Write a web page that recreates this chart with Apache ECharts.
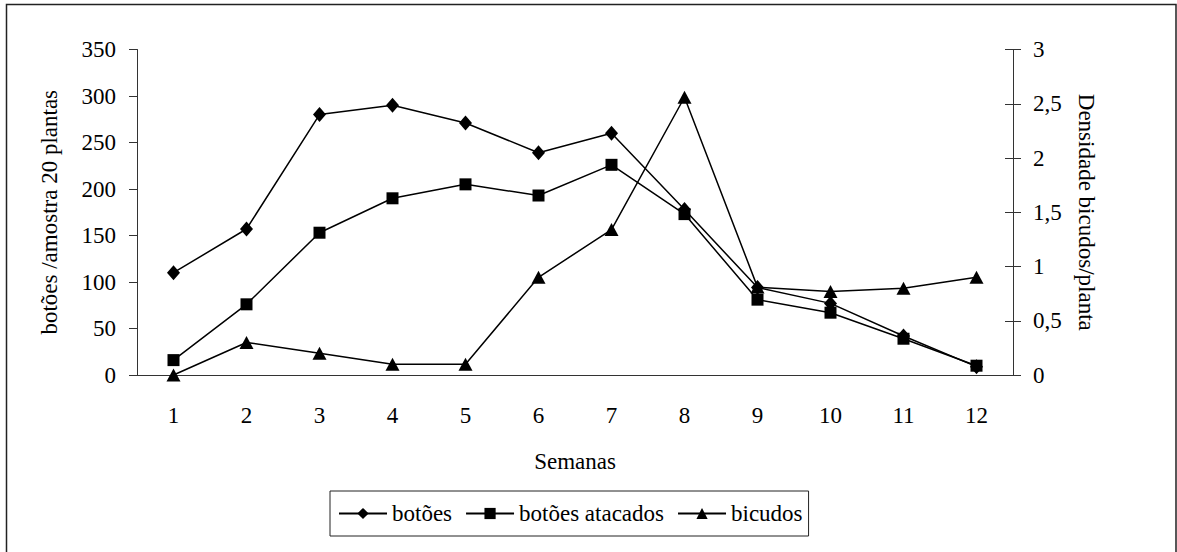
<!DOCTYPE html>
<html>
<head>
<meta charset="utf-8">
<script src="https://cdn.jsdelivr.net/npm/echarts@6/dist/echarts.min.js"></script>
<style>
  html, body { margin: 0; padding: 0; background: #fff; }
  #chart { width: 1177px; height: 552px; }
</style>
</head>
<body>
<div id="chart"></div>
<script>
var weeks = ['1', '2', '3', '4', '5', '6', '7', '8', '9', '10', '11', '12'];
var botoes = [110, 157, 280, 290, 271, 239, 260, 178, 94, 77, 42, 9];
var atacados = [16, 76, 153, 190, 205, 193, 226, 173, 81, 67, 39, 10];
var bicudos = [0, 0.3, 0.2, 0.1, 0.1, 0.9, 1.34, 2.56, 0.81, 0.77, 0.8, 0.9];

var font = "'Liberation Serif', serif";
var fs = 23;
var ink = '#000';
var axisCol = '#333';

var chart = echarts.init(document.getElementById('chart'), null, { renderer: 'svg' });
chart.setOption({
  animation: false,
  textStyle: { fontFamily: font },
  graphic: [{
    type: 'rect',
    shape: { x: 6.5, y: 4.5, width: 1169.5, height: 600 },
    style: { fill: 'none', stroke: '#222', lineWidth: 1.5 },
    silent: true
  }],
  grid: { left: 137, right: 164, top: 49.5, bottom: 177 },
  legend: {
    data: ['botões', 'botões atacados', 'bicudos'],
    left: 330,
    top: 491,
    itemWidth: 48,
    itemHeight: 14,
    itemGap: 13,
    padding: [11, 6, 11, 8],
    borderColor: '#222',
    borderWidth: 1,
    textStyle: { color: ink, fontSize: fs, fontFamily: font }
  },
  xAxis: {
    type: 'category',
    data: weeks,
    name: 'Semanas',
    nameLocation: 'middle',
    nameGap: 75,
    nameTextStyle: { color: ink, fontSize: fs, fontFamily: font },
    axisLine: { lineStyle: { color: axisCol, width: 1 } },
    axisTick: { length: 7, lineStyle: { color: axisCol } },
    axisLabel: { color: ink, fontSize: fs, margin: 29, fontFamily: font },
    splitLine: { show: false }
  },
  yAxis: [
    {
      type: 'value',
      min: 0, max: 350, interval: 50,
      name: 'botões /amostra 20 plantas',
      nameLocation: 'middle',
      nameGap: 76,
      nameTextStyle: { color: ink, fontSize: fs, fontFamily: font },
      axisLine: { show: true, lineStyle: { color: axisCol, width: 1 } },
      axisTick: { show: true, length: 8, lineStyle: { color: axisCol } },
      axisLabel: { color: ink, fontSize: fs, margin: 21, fontFamily: font },
      splitLine: { show: false }
    },
    {
      type: 'value',
      position: 'right',
      min: 0, max: 3, interval: 0.5,
      name: 'Densidade bicudos/planta',
      nameLocation: 'middle',
      nameRotate: -90,
      nameGap: 62,
      nameTextStyle: { color: ink, fontSize: fs, fontFamily: font },
      axisLine: { show: true, lineStyle: { color: axisCol, width: 1 } },
      axisTick: { show: true, length: 8, lineStyle: { color: axisCol } },
      axisLabel: {
        color: ink, fontSize: fs, margin: 20, fontFamily: font,
        formatter: function (v) { return String(v).replace('.', ','); }
      },
      splitLine: { show: false }
    },
    {
      // inner half of the crossing ticks on the right axis
      type: 'value',
      position: 'right',
      min: 0, max: 3, interval: 0.5,
      axisLine: { show: false },
      axisTick: { show: true, inside: true, length: 8, lineStyle: { color: axisCol } },
      axisLabel: { show: false },
      splitLine: { show: false }
    }
  ],
  series: [
    {
      name: 'botões',
      type: 'line',
      yAxisIndex: 0,
      data: botoes,
      symbol: 'diamond',
      symbolSize: [13, 15],
      lineStyle: { color: ink, width: 1.5 },
      itemStyle: { color: ink }
    },
    {
      name: 'botões atacados',
      type: 'line',
      yAxisIndex: 0,
      data: atacados,
      symbol: 'rect',
      symbolSize: 12,
      lineStyle: { color: ink, width: 1.5 },
      itemStyle: { color: ink }
    },
    {
      name: 'bicudos',
      type: 'line',
      yAxisIndex: 1,
      data: bicudos,
      symbol: 'triangle',
      symbolSize: [14, 13],
      lineStyle: { color: ink, width: 1.5 },
      itemStyle: { color: ink }
    }
  ]
});
window.addEventListener('resize', function () { chart.resize(); });
</script>
</body>
</html>
